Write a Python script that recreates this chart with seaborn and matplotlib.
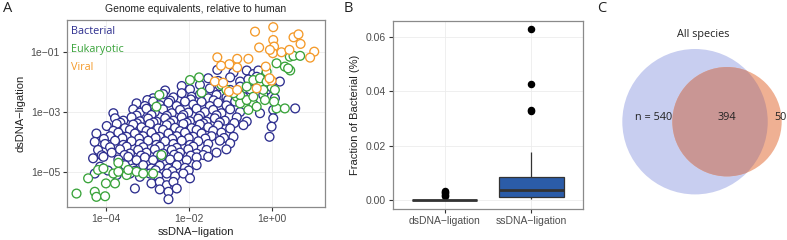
import numpy as np
import pandas as pd
import matplotlib
matplotlib.use("Agg")
import matplotlib.pyplot as plt
import seaborn as sns
from matplotlib.patches import Circle

# ---------------- data (log10 genome equivalents) ----------------
bact_ss_log = [
    -1.31, -0.92, -0.60, -0.44, -0.32,
    -1.53, -1.29, -1.00, -0.76, -0.56, -0.36, -0.20, 0.20,
    -2.57, -2.17, -1.97, -1.73, -1.49, -1.25, -1.00, -0.76, -0.52, -0.28, -0.12, 0.00,
    -2.86, -2.62, -2.37, -2.17, -1.93, -1.73, -1.53, -1.33, -1.09, -0.92, -0.68, -0.20, 0.08,
    -3.00, -2.45, -1.95, -1.40, -1.05,
    -3.26, -3.06, -2.86, -2.70, -2.49, -2.29, -2.09, -1.89, -1.69, -1.49, -1.29, -1.09, -0.88, -0.44, 0.04,
    -3.82, -3.34, -3.18, -3.02, -2.82, -2.62, -2.41, -2.21, -2.01, -1.81, -1.61, -1.41, -1.21, -1.00, -0.76, -0.28, 0.57,
    -3.26, -2.90, -2.53, -2.13, -1.73, -1.33,
    -3.78, -3.58, -3.38, -3.18, -2.98, -2.78, -2.57, -2.37, -2.17, -1.97, -1.77, -1.57, -1.37, -1.13, -0.84, -0.60, 0.04,
    -3.65, -3.25, -2.85, -2.45, -2.05, -1.65, -1.25, -0.90,
    -3.98, -3.74, -3.54, -3.34, -3.14, -2.94, -2.74, -2.53, -2.33, -2.13, -1.93, -1.73, -1.53, -1.29, -1.00, -0.68, 0.00,
    -3.82, -3.42, -3.02, -2.62, -2.21, -1.81, -1.41,
    -4.23, -3.90, -3.70, -3.50, -3.30, -3.10, -2.90, -2.70, -2.49, -2.29, -2.09, -1.89, -1.69, -1.45, -1.21, -0.92, -0.05,
    -4.05, -3.60, -3.20, -2.80, -2.40, -2.00, -1.60, -1.15,
    -4.27, -4.02, -3.78, -3.58, -3.38, -3.18, -2.98, -2.78, -2.57, -2.37, -2.17, -1.97, -1.77, -1.53, -1.25, -1.00,
    -3.90, -3.50, -3.10, -2.70, -2.29, -1.89,
    -4.19, -3.86, -3.66, -3.42, -3.22, -3.02, -2.82, -2.62, -2.41, -2.21, -2.01, -1.81, -1.57, -1.33, -1.09,
    -4.10, -3.55, -3.15, -2.75, -2.35, -1.95, -1.65,
    -4.31, -4.06, -3.70, -3.46, -3.26, -3.06, -2.86, -2.66, -2.45, -2.25, -2.05, -1.81, -1.53,
    -4.14, -3.54, -3.34, -3.10, -2.90, -2.70, -2.49, -2.29, -2.09, -1.81,
    -3.95, -3.30, -2.80, -2.40, -2.00,
    -4.27, -3.74, -3.42, -3.18, -2.94, -2.74, -2.53, -2.33, -2.13,
    -2.90, -2.70, -2.53, -2.37, -1.97,
    -3.30, -2.70, -2.49, -2.29, -2.49,
]
bact_ds_log = [
    -1.59, -1.68, -1.61, -1.73, -1.61,
    -1.87, -1.96, -1.84, -1.98, -1.91, -1.82, -1.95, -1.98,
    -2.28, -2.13, -2.24, -2.09, -2.21, -2.13, -2.26, -2.15, -2.24, -2.13, -2.26, -2.17,
    -2.54, -2.40, -2.51, -2.37, -2.49, -2.41, -2.54, -2.43, -2.51, -2.37, -2.49, -2.43, -2.54,
    -2.60, -2.62, -2.58, -2.61, -2.59,
    -2.71, -2.80, -2.65, -2.77, -2.69, -2.80, -2.65, -2.75, -2.66, -2.80, -2.69, -2.78, -2.65, -2.73, -2.93,
    -3.04, -2.91, -3.02, -2.89, -3.00, -2.91, -3.04, -2.93, -3.02, -2.89, -3.00, -2.93, -3.04, -2.91, -3.00, -3.04, -2.88,
    -3.12, -3.10, -3.13, -3.10, -3.13, -3.11,
    -3.21, -3.29, -3.18, -3.31, -3.22, -3.32, -3.21, -3.29, -3.18, -3.31, -3.22, -3.32, -3.21, -3.29, -3.18, -3.32, -3.21,
    -3.36, -3.38, -3.35, -3.37, -3.36, -3.38, -3.35, -3.37,
    -3.47, -3.40, -3.54, -3.42, -3.51, -3.40, -3.55, -3.44, -3.53, -3.40, -3.54, -3.42, -3.51, -3.45, -3.55, -3.44, -3.49,
    -3.63, -3.60, -3.63, -3.60, -3.64, -3.60, -3.63,
    -3.72, -3.81, -3.69, -3.83, -3.72, -3.81, -3.69, -3.83, -3.72, -3.81, -3.69, -3.83, -3.72, -3.81, -3.69, -3.83, -3.83,
    -3.90, -3.88, -3.89, -3.87, -3.90, -3.88, -3.89, -3.87,
    -4.00, -4.07, -3.96, -4.10, -3.98, -4.07, -3.96, -4.10, -3.98, -4.07, -3.96, -4.10, -3.98, -4.07, -3.96, -4.05,
    -4.18, -4.16, -4.18, -4.16, -4.20, -4.16,
    -4.27, -4.36, -4.25, -4.39, -4.27, -4.36, -4.25, -4.39, -4.27, -4.36, -4.25, -4.39, -4.27, -4.36, -4.25,
    -4.45, -4.44, -4.46, -4.45, -4.43, -4.46, -4.44,
    -4.55, -4.50, -4.59, -4.50, -4.61, -4.52, -4.61, -4.50, -4.59, -4.50, -4.61, -4.52, -4.50,
    -4.83, -4.78, -4.89, -4.78, -4.89, -4.80, -4.89, -4.78, -4.87, -4.78,
    -4.96, -4.97, -4.95, -4.98, -4.96,
    -5.06, -5.11, -5.06, -5.17, -5.06, -5.15, -5.06, -5.15, -5.06,
    -5.39, -5.34, -5.45, -5.34, -5.22,
    -5.56, -5.59, -5.67, -5.56, -5.92,
]
euk_ss_log = [
    -4.71, -4.43, -4.27, -4.23, -4.02, -4.00, -4.19, -4.06, -3.82, -3.78, -3.70, -3.50,
    -3.46, -3.26, -3.10, -2.86, -3.70, -2.66,
    -2.78, -2.71, -1.97, -1.69, -1.75, -1.21, -1.09, -0.84, -0.76, -0.60,
    -0.56, -0.36, -0.44, -0.28, -0.12, -0.20, -0.16, 0.08, 0.12, 0.32,
    0.44, 0.53, 0.69, 0.45, 0.40, -0.12, 0.12, 0.32, 0.06, -0.44,
    -0.60, -0.76, -0.92,
]
euk_ds_log = [
    -5.73, -5.22, -5.67, -5.84, -5.82, -5.39, -4.94, -4.89, -5.06, -5.39, -5.00, -5.11,
    -4.94, -5.00, -5.06, -5.06, -4.70, -4.44,
    -2.82, -2.43, -1.93, -2.35, -1.84, -2.09, -2.26, -2.49, -2.71, -2.60,
    -2.93, -2.82, -1.93, -1.87, -1.98, -2.26, -2.60, -2.26, -1.37, -1.48,
    -1.15, -1.12, -1.12, -1.61, -1.54, -1.65, -2.88, -2.88, -2.65, -2.49,
    -2.15, -2.43, -2.37,
]
vir_ss_log = [-0.40, 0.04, 0.04, 0.06, 0.03, -0.04, 0.24, 0.43, 0.53, 0.65, 0.70, 1.03, 0.93, -0.30,
              -0.56, -0.83, -0.83, -1.02, -1.22, -1.31, -0.14, 0.00, -0.05, -1.37, -1.17, -1.03, -0.83, -0.36]
vir_ds_log = [-0.31, -0.16, -0.59, -0.81, -1.03, -0.92, -1.00, -0.92, -0.50, -0.40, -0.72, -0.98, -1.18, -0.84,
              -1.22, -1.22, -1.51, -1.40, -1.45, -1.17, -1.48, -1.95, -1.87, -1.98, -2.02, -2.32, -2.26, -2.21]

groups = ["Bacterial", "Eukaryotic", "Viral"]
group_colors = ["#2e2f8f", "#39a33a", "#f49a2a"]

x_ticks_A = [1e-4, 1e-2, 1e0]
x_labels_A = ["1e\u221204", "1e\u221202", "1e+00"]
y_ticks_A = [1e-5, 1e-3, 1e-1]
y_labels_A = ["1e\u221205", "1e\u221203", "1e\u221201"]

# Panel B raw fractions
box_cats = ["dsDNA\u2212ligation", "ssDNA\u2212ligation"]
ds_frac = [0.0, 0.0, 0.00002, 0.00003, 0.00005, 0.00001, 0.0, 0.00004, 0.0, 0.00002, 0.00006,
           0.0, 0.00003, 0.00001, 0.0, 0.00008, 0.0014, 0.0020, 0.0026, 0.0030, 0.0034]
ss_frac = [0.0005, 0.0006, 0.0007, 0.0008, 0.0009, 0.0010, 0.0012, 0.0016, 0.0022, 0.0028, 0.0034,
           0.0038, 0.0042, 0.0050, 0.0060, 0.0070, 0.0080, 0.0090, 0.0177, 0.0328, 0.0332, 0.0428, 0.0627]
y_ticks_B = [0.00, 0.02, 0.04, 0.06]
y_labels_B = ["0.00", "0.02", "0.04", "0.06"]

# Panel C counts
venn_left = 540
venn_both = 394
venn_right = 50

# ---------------- style ----------------
sns.set_theme(style="white")
plt.rcParams["font.family"] = ["Liberation Sans", "DejaVu Sans"]
TXT = "#4d4d4d"
FRAME = "#8a8a8a"
GRID = "#ececec"
LAB = "Open Sans"

fig = plt.figure(figsize=(7.87, 2.40), dpi=100)


def style_axes(ax):
    for s in ax.spines.values():
        s.set_color(FRAME)
        s.set_linewidth(0.9)
    ax.tick_params(axis="both", which="major", length=3, width=0.8, color="#333333",
                   labelsize=7.5, labelcolor=TXT, pad=2, direction="out",
                   bottom=True, left=True)
    ax.tick_params(which="minor", length=0)
    ax.grid(True, color=GRID, linewidth=0.6)
    ax.set_axisbelow(True)


# ---------------- Panel A ----------------
axA = fig.add_axes([67 / 787, 33 / 240, 258 / 787, 187 / 240])
assert len(bact_ss_log) == len(bact_ds_log)
df = pd.DataFrame({
    "ss": 10 ** np.array(bact_ss_log + euk_ss_log + vir_ss_log),
    "ds": 10 ** np.array(bact_ds_log + euk_ds_log + vir_ds_log),
    "group": [groups[0]] * len(bact_ss_log) + [groups[1]] * len(euk_ss_log) + [groups[2]] * len(vir_ss_log),
})
axA.set_xscale("log")
axA.set_yscale("log")
sns.scatterplot(data=df, x="ss", y="ds", hue="group", hue_order=groups,
                palette=group_colors, s=40, linewidth=0.9, legend=False, ax=axA)
coll = axA.collections[-1]
fc = coll.get_facecolors()
coll.set_edgecolors(fc)
coll.set_facecolors("white")
coll.set_linewidths(0.95)

axA.set_xlim(10 ** -4.94, 10 ** 1.29)
axA.set_ylim(10 ** -6.18, 10 ** 0.08)
axA.set_xticks(x_ticks_A)
axA.set_xticklabels(x_labels_A)
axA.set_yticks(y_ticks_A)
axA.set_yticklabels(y_labels_A)
axA.minorticks_off()
style_axes(axA)
axA.set_xlabel("ssDNA\u2212ligation", fontsize=8, color="#222222", labelpad=2)
axA.set_ylabel("dsDNA\u2212ligation", fontsize=8, color="#222222", labelpad=4)
axA.set_title("Genome equivalents, relative to human", fontsize=7.5, color="#222222", pad=6)

for i, (g, c) in enumerate(zip(groups, group_colors)):
    axA.text(0.016, 0.937 - i * 0.096, g, transform=axA.transAxes, color=c,
             fontsize=7.8, family=LAB, ha="left", va="center")

# ---------------- Panel B ----------------
axB = fig.add_axes([393 / 787, 31.3 / 240, 190 / 787, 188 / 240])
dfb = pd.DataFrame({
    "method": [box_cats[0]] * len(ds_frac) + [box_cats[1]] * len(ss_frac),
    "frac": ds_frac + ss_frac,
})
sns.boxplot(data=dfb, x="method", y="frac", hue="method", order=box_cats, hue_order=box_cats,
            palette=["#2b5ca8", "#2b5ca8"], legend=False, width=0.75, linecolor="#333333",
            linewidth=0.9, showcaps=False, saturation=1,
            flierprops=dict(marker="o", markerfacecolor="black", markeredgecolor="black", markersize=4.4),
            medianprops=dict(linewidth=2.0, color="#333333"), ax=axB)
axB.set_xlim(-0.6, 1.6)
axB.set_ylim(-0.0031, 0.0659)
axB.set_yticks(y_ticks_B)
axB.set_yticklabels(y_labels_B)
style_axes(axB)
axB.set_xlabel("")
axB.set_ylabel("Fraction of Bacterial (%)", fontsize=8, color="#222222", labelpad=4)

# ---------------- Panel C ----------------
axC = fig.add_axes([600 / 787, 0, 187 / 787, 1])
axC.set_xlim(-1.307, 1.265)
axC.set_ylim(-1.627, 1.674)
axC.set_aspect("equal")
axC.axis("off")
blue = Circle((0, 0), 1.0, facecolor="#c8cef0", edgecolor="none")
orange = Circle((0.44, 0.0), 0.752, facecolor="#efb093", edgecolor="none")
overlap = Circle((0.44, 0.0), 0.752, facecolor="#c99694", edgecolor="none")
axC.add_patch(blue)
axC.add_patch(orange)
axC.add_patch(overlap)
overlap.set_clip_path(blue)
axC.text(0.11, 1.20, "All species", ha="center", va="center", fontsize=7.8, family=LAB, color="#222222")
axC.text(-0.574, 0.055, f"n = {venn_left}", ha="center", va="center", fontsize=7.8, family=LAB, color="#222222")
axC.text(0.436, 0.055, f"{venn_both}", ha="center", va="center", fontsize=7.8, family=LAB, color="#222222")
axC.text(1.169, 0.055, f"{venn_right}", ha="center", va="center", fontsize=7.8, family=LAB, color="#222222")

# panel letters
for lx, letter in [(3, "A"), (344, "B"), (597, "C")]:
    fig.text(lx / 787, 1 - 9 / 240, letter, fontsize=10.5, family=LAB, color="#222222",
             ha="left", va="center")

fig.savefig("out.png", dpi=100)
